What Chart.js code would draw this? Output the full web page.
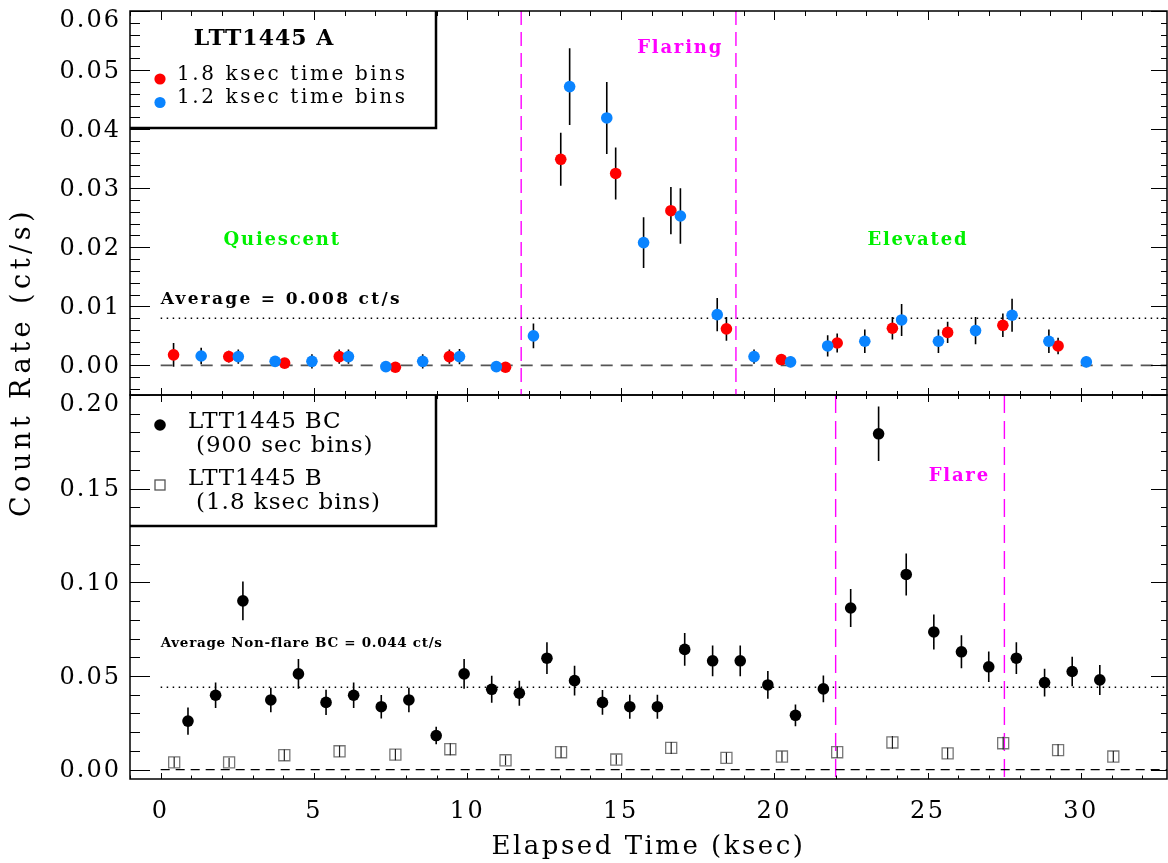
<!DOCTYPE html>
<html>
<head>
<meta charset="utf-8">
<script src="https://cdn.jsdelivr.net/npm/chart.js@4.4.1/dist/chart.umd.min.js"></script>
<style>
html, body { margin: 0; padding: 0; background: #fff; }
#wrap { position: relative; width: 1168px; height: 863px; overflow: hidden; }
#wrap canvas { position: absolute; left: 0; top: 0; }
</style>
</head>
<body>
<div id="wrap">
  <canvas id="botCanvas" width="1168" height="863"></canvas>
  <canvas id="topCanvas" width="1168" height="863"></canvas>
</div>
<script>
// ---------------- DATA ----------------
// Top panel: LTT1445 A
const redX   = [0.42, 2.22, 4.04, 5.82, 7.65, 9.41, 11.24, 13.04, 14.83, 16.63, 18.44, 20.23, 22.05, 23.85, 25.65, 27.45, 29.25];
const redY   = [0.0018, 0.0015, 0.0004, 0.0015, -0.0003, 0.0015, -0.0003, 0.0349, 0.0325, 0.0262, 0.0062, 0.0010, 0.0038, 0.0063, 0.0056, 0.0068, 0.0033];
const redErr = [0.0020, 0.0010, 0.0008, 0.0012, 0.0003, 0.0012, 0.0003, 0.0045, 0.0044, 0.0040, 0.0020, 0.0008, 0.0016, 0.0019, 0.0018, 0.0020, 0.0014];

const blueX   = [1.32, 2.53, 3.73, 4.93, 6.12, 7.34, 8.54, 9.74, 10.94, 12.15, 13.33, 14.54, 15.74, 16.94, 18.14, 19.34, 20.53, 21.74, 22.95, 24.15, 25.35, 26.56, 27.75, 28.95, 30.17];
const blueY   = [0.0016, 0.0015, 0.0007, 0.0007, 0.0015, -0.0002, 0.0007, 0.0015, -0.0002, 0.0050, 0.0472, 0.0419, 0.0208, 0.0253, 0.0086, 0.0015, 0.0006, 0.0033, 0.0041, 0.0077, 0.0041, 0.0059, 0.0085, 0.0041, 0.0006];
const blueErr = [0.0014, 0.0012, 0.0008, 0.0012, 0.0012, 0.0003, 0.0012, 0.0013, 0.0003, 0.0021, 0.0065, 0.0061, 0.0043, 0.0047, 0.0028, 0.0012, 0.0009, 0.0018, 0.0020, 0.0027, 0.0020, 0.0023, 0.0028, 0.0020, 0.0009];

// Bottom panel: LTT1445 BC (900 s bins) and LTT1445 B (1.8 ks bins)
const bcX   = [0.89, 1.79, 2.68, 3.59, 4.49, 5.39, 6.29, 7.19, 8.09, 8.98, 9.89, 10.79, 11.69, 12.59, 13.49, 14.40, 15.29, 16.19, 17.08, 17.99, 18.89, 19.79, 20.69, 21.60, 22.49, 23.40, 24.30, 25.20, 26.10, 26.99, 27.89, 28.81, 29.71, 30.61];
const bcY   = [0.0259, 0.0397, 0.0901, 0.0372, 0.0511, 0.0359, 0.0397, 0.0336, 0.0372, 0.0182, 0.0511, 0.0429, 0.0408, 0.0595, 0.0475, 0.0359, 0.0336, 0.0336, 0.0642, 0.0581, 0.0581, 0.0452, 0.0290, 0.0431, 0.0863, 0.1793, 0.1042, 0.0735, 0.0629, 0.0549, 0.0595, 0.0465, 0.0524, 0.0479];
const bcErr = [0.0073, 0.0068, 0.0103, 0.0065, 0.0079, 0.0067, 0.0068, 0.0063, 0.0065, 0.0047, 0.0079, 0.0072, 0.0067, 0.0085, 0.0079, 0.0066, 0.0064, 0.0064, 0.0088, 0.0082, 0.0082, 0.0074, 0.0058, 0.0071, 0.0101, 0.0146, 0.0112, 0.0093, 0.0088, 0.0081, 0.0085, 0.0074, 0.0079, 0.0080];

const bX   = [0.44, 2.23, 4.03, 5.83, 7.65, 9.44, 11.24, 13.05, 14.85, 16.64, 18.44, 20.25, 22.05, 23.85, 25.65, 27.46, 29.25, 31.05];
const bY   = [0.0039, 0.0039, 0.0077, 0.0098, 0.0080, 0.0109, 0.0050, 0.0093, 0.0054, 0.0116, 0.0063, 0.0070, 0.0093, 0.0145, 0.0087, 0.0141, 0.0104, 0.0070];
const bErr = [0.0028, 0.0025, 0.0030, 0.0030, 0.0030, 0.0032, 0.0025, 0.0030, 0.0026, 0.0032, 0.0028, 0.0028, 0.0030, 0.0034, 0.0030, 0.0034, 0.0031, 0.0029];

// Reference lines and phase boundaries
const topAverage = 0.008;
const botAverage = 0.044;
const topPhaseLines = [11.75, 18.75];
const botPhaseLines = [22.0, 27.5];

// Tick labels
const xTickValues   = [0, 5, 10, 15, 20, 25, 30];
const topYTickLabels = [0.00, 0.01, 0.02, 0.03, 0.04, 0.05, 0.06];
const botYTickLabels = [0.00, 0.05, 0.10, 0.15, 0.20];

// Axis ranges
const X_MIN = -1, X_MAX = 32.8;
const TOP_Y_MIN = -0.005, TOP_Y_MAX = 0.06;
const BOT_Y_MIN = -0.005, BOT_Y_MAX = 0.20;

// ---------------- STYLE ----------------
const FONT = "'DejaVu Serif', serif";
const RED = '#ff0000', BLUE = '#0a84ff', GREEN = '#00f000', MAGENTA = '#ff00ff';

const pts = (xs, ys) => xs.map((x, i) => ({ x: x, y: ys[i] }));
const hLine = (y) => [{ x: 0, y: y }, { x: X_MAX, y: y }];

function drawFrameTicks(chart, c) {
  const { ctx, chartArea: { left, right, top, bottom }, scales: { x, y } } = chart;
  ctx.save();
  ctx.letterSpacing = '0px';
  ctx.strokeStyle = '#000';
  ctx.lineWidth = 1;
  ctx.beginPath();
  for (let v = Math.ceil(x.min); v <= x.max; v++) {
    const px = Math.round(x.getPixelForValue(v)) + 0.5;
    const major = v % 5 === 0;
    const lt = major ? c.xTopMaj : c.xTopMin;
    const lb = major ? c.xBotMaj : c.xBotMin;
    ctx.moveTo(px, top); ctx.lineTo(px, top + lt);
    ctx.moveTo(px, bottom); ctx.lineTo(px, bottom - lb);
  }
  const i0 = Math.ceil(y.min / c.yMinor - 1e-6);
  for (let i = i0; i * c.yMinor <= y.max + 1e-9; i++) {
    const v = i * c.yMinor;
    const py = Math.round(y.getPixelForValue(v)) + 0.5;
    const major = ((i % c.majorEvery) + c.majorEvery) % c.majorEvery === 0;
    const ll = major ? 20 : 10;
    const lr = major ? 16 : 6;
    ctx.moveTo(left, py); ctx.lineTo(left + ll, py);
    ctx.moveTo(right, py); ctx.lineTo(right - lr, py);
  }
  ctx.stroke();
  ctx.lineWidth = 1.5;
  ctx.strokeRect(left, top, right - left, bottom - top);
  ctx.restore();
}

function drawYLabels(chart, values, topShift) {
  const { ctx, chartArea, scales: { y } } = chart;
  ctx.save();
  ctx.font = '24px ' + FONT;
  ctx.letterSpacing = '2px';
  ctx.textAlign = 'right';
  ctx.textBaseline = 'middle';
  ctx.fillStyle = '#000';
  values.forEach((v, i) => {
    let py = y.getPixelForValue(v) + 1.5;
    if (i === values.length - 1) py += topShift;
    ctx.fillText(v.toFixed(2), chartArea.left - 9, py);
  });
  ctx.restore();
}

function drawErrorBars(chart, xs, ys, es, color, width) {
  const { ctx, chartArea, scales: { x, y } } = chart;
  ctx.save();
  ctx.beginPath();
  ctx.rect(chartArea.left, chartArea.top, chartArea.right - chartArea.left, chartArea.bottom - chartArea.top);
  ctx.clip();
  ctx.beginPath();
  xs.forEach((xv, i) => {
    const px = x.getPixelForValue(xv);
    ctx.moveTo(px, y.getPixelForValue(ys[i] - es[i]));
    ctx.lineTo(px, y.getPixelForValue(ys[i] + es[i]));
  });
  ctx.strokeStyle = color;
  ctx.lineWidth = width;
  ctx.stroke();
  ctx.restore();
}

function text(ctx, str, x, y, font, color, align, spacing) {
  ctx.save();
  ctx.font = font;
  ctx.letterSpacing = (spacing || 0) + 'px';
  ctx.fillStyle = color;
  ctx.textAlign = align || 'left';
  ctx.textBaseline = 'middle';
  ctx.fillText(str, x, y);
  ctx.restore();
}

function dot(ctx, x, y, r, color) {
  ctx.save();
  ctx.beginPath();
  ctx.arc(x, y, r, 0, Math.PI * 2);
  ctx.fillStyle = color;
  ctx.fill();
  ctx.restore();
}

// ---------------- TOP CHART ----------------
const topPlugin = {
  id: 'topDecor',
  beforeDatasetsDraw(chart) {
    drawErrorBars(chart, redX, redY, redErr, '#000', 1.6);
    drawErrorBars(chart, blueX, blueY, blueErr, '#000', 1.6);
  },
  afterDraw(chart) {
    const { ctx, chartArea: { left, top }, scales: { x, y } } = chart;

    // annotations
    text(ctx, 'Quiescent', x.getPixelForValue(3.96), y.getPixelForValue(0.0212), 'bold 18px ' + FONT, GREEN, 'center', 1.8);
    text(ctx, 'Elevated', x.getPixelForValue(24.68), y.getPixelForValue(0.0212), 'bold 18px ' + FONT, GREEN, 'center', 1.8);
    text(ctx, 'Flaring', x.getPixelForValue(16.93), y.getPixelForValue(0.0536), 'bold 18px ' + FONT, MAGENTA, 'center', 1.8);
    text(ctx, 'Average = 0.008 ct/s', x.getPixelForValue(0), y.getPixelForValue(0.0112), 'bold 17px ' + FONT, '#000', 'left', 2.3);

    // legend box
    ctx.save();
    ctx.fillStyle = '#fff';
    ctx.fillRect(left, top, 436 - left, 128 - top);
    ctx.strokeStyle = '#000';
    ctx.lineWidth = 2.5;
    ctx.beginPath();
    ctx.moveTo(left, 128); ctx.lineTo(436, 128); ctx.lineTo(436, top);
    ctx.stroke();
    ctx.restore();
    text(ctx, 'LTT1445 A', 264, 39, 'bold 22px ' + FONT, '#000', 'center', 1);
    dot(ctx, 160, 79, 5.6, RED);
    text(ctx, '1.8 ksec time bins', 177, 75, '20px ' + FONT, '#000', 'left', 2.6);
    dot(ctx, 160, 102.5, 5.6, BLUE);
    text(ctx, '1.2 ksec time bins', 177, 98, '20px ' + FONT, '#000', 'left', 2.6);

    // frame, ticks and tick labels on top
    drawFrameTicks(chart, { xTopMaj: 9, xTopMin: 5, xBotMaj: 7, xBotMin: 4, yMinor: 0.002, majorEvery: 5 });
    drawYLabels(chart, topYTickLabels, 8);
  }
};

new Chart(document.getElementById('topCanvas'), {
  type: 'scatter',
  data: {
    datasets: [
      { label: '1.2 ksec time bins', data: pts(blueX, blueY), backgroundColor: BLUE, borderWidth: 0, pointRadius: 5.8, order: 0 },
      { label: '1.8 ksec time bins', data: pts(redX, redY), backgroundColor: RED, borderWidth: 0, pointRadius: 5.8, order: 1 },
      { label: 'average', type: 'line', data: hLine(topAverage), borderColor: '#000', borderWidth: 1.4, borderDash: [1.5, 4.5], pointRadius: 0, order: 5 },
      { label: 'zero', type: 'line', data: hLine(0), borderColor: '#555', borderWidth: 1.8, borderDash: [12, 8], pointRadius: 0, order: 6 },
      { label: 'start', type: 'line', data: [{ x: topPhaseLines[0], y: TOP_Y_MAX }, { x: topPhaseLines[0], y: TOP_Y_MIN }], borderColor: MAGENTA, borderWidth: 1.4, borderDash: [14, 7], pointRadius: 0, order: 7 },
      { label: 'end', type: 'line', data: [{ x: topPhaseLines[1], y: TOP_Y_MAX }, { x: topPhaseLines[1], y: TOP_Y_MIN }], borderColor: MAGENTA, borderWidth: 1.4, borderDash: [14, 7], pointRadius: 0, order: 8 }
    ]
  },
  options: {
    responsive: false,
    animation: false,
    events: [],
    layout: { autoPadding: false, padding: { top: 11, bottom: 863 - 395, left: 0, right: 1 } },
    plugins: { legend: { display: false }, tooltip: { enabled: false } },
    scales: {
      x: { type: 'linear', min: X_MIN, max: X_MAX, display: false },
      y: {
        type: 'linear', min: TOP_Y_MIN, max: TOP_Y_MAX,
        afterBuildTicks: (s) => { s.ticks = topYTickLabels.map(v => ({ value: v })); },
        afterFit: (s) => { s.width = 130; },
        grid: { display: false, drawTicks: false },
        border: { display: false },
        ticks: { display: false }
      }
    }
  },
  plugins: [topPlugin]
});

// ---------------- BOTTOM CHART ----------------
const botPlugin = {
  id: 'botDecor',
  beforeDraw(chart) {
    chart.ctx.letterSpacing = '2.5px';
  },
  beforeDatasetsDraw(chart) {
    chart.ctx.letterSpacing = '0px';
    drawErrorBars(chart, bcX, bcY, bcErr, '#000', 1.6);
  },
  afterDatasetsDraw(chart) {
    drawErrorBars(chart, bX, bY, bErr, '#222', 1.2);
  },
  afterDraw(chart) {
    const { ctx, chartArea: { left, top }, scales: { x, y } } = chart;
    ctx.letterSpacing = '0px';

    text(ctx, 'Flare', x.getPixelForValue(26.03), y.getPixelForValue(0.1566), 'bold 18px ' + FONT, MAGENTA, 'center', 1.8);
    text(ctx, 'Average Non-flare BC = 0.044 ct/s', x.getPixelForValue(0), y.getPixelForValue(0.0676), 'bold 13.5px ' + FONT, '#000', 'left', 0.7);

    // y-axis title (shared by both panels)
    ctx.save();
    ctx.translate(23, 362);
    ctx.rotate(-Math.PI / 2);
    ctx.font = '27px ' + FONT;
    ctx.letterSpacing = '4.5px';
    ctx.fillStyle = '#000';
    ctx.textAlign = 'center';
    ctx.textBaseline = 'middle';
    ctx.fillText('Count Rate (ct/s)', 0, 0);
    ctx.restore();

    // legend box
    ctx.save();
    ctx.fillStyle = '#fff';
    ctx.fillRect(left + 1, top + 1, 436 - left - 1, 526 - top - 1);
    ctx.strokeStyle = '#000';
    ctx.lineWidth = 2.5;
    ctx.beginPath();
    ctx.moveTo(left, 526); ctx.lineTo(436, 526); ctx.lineTo(436, top);
    ctx.stroke();
    ctx.restore();
    dot(ctx, 160, 425, 5.8, '#000');
    text(ctx, 'LTT1445 BC', 188, 422, '23px ' + FONT, '#000', 'left', 0.8);
    text(ctx, '(900 sec bins)', 196, 446, '23px ' + FONT, '#000', 'left', 1);
    ctx.save();
    ctx.strokeStyle = '#555';
    ctx.lineWidth = 1.3;
    ctx.strokeRect(155, 480, 10, 10);
    ctx.restore();
    text(ctx, 'LTT1445 B', 188, 479, '23px ' + FONT, '#000', 'left', 0.8);
    text(ctx, '(1.8 ksec bins)', 196, 503, '23px ' + FONT, '#000', 'left', 1);

    // frame, ticks and tick labels on top
    drawFrameTicks(chart, { xTopMaj: 7, xTopMin: 4, xBotMaj: 6, xBotMin: 3.5, yMinor: 0.01, majorEvery: 5 });
    drawYLabels(chart, botYTickLabels, 8);
  }
};

new Chart(document.getElementById('botCanvas'), {
  type: 'scatter',
  data: {
    datasets: [
      { label: 'LTT1445 BC', data: pts(bcX, bcY), backgroundColor: '#000', borderWidth: 0, pointRadius: 5.8, order: 0 },
      { label: 'LTT1445 B', data: pts(bX, bY), pointStyle: 'rect', backgroundColor: 'rgba(255,255,255,0)', borderColor: '#777', borderWidth: 1.3, pointRadius: 7.8, order: 1 },
      { label: 'average', type: 'line', data: hLine(botAverage), borderColor: '#000', borderWidth: 1.4, borderDash: [1.5, 4.5], pointRadius: 0, order: 5 },
      { label: 'zero', type: 'line', data: hLine(0), borderColor: '#000', borderWidth: 1.2, borderDash: [9, 6], pointRadius: 0, order: 6 },
      { label: 'flare start', type: 'line', data: [{ x: botPhaseLines[0], y: BOT_Y_MAX }, { x: botPhaseLines[0], y: BOT_Y_MIN }], borderColor: MAGENTA, borderWidth: 1.4, borderDash: [18, 8], pointRadius: 0, order: 7 },
      { label: 'flare end', type: 'line', data: [{ x: botPhaseLines[1], y: BOT_Y_MAX }, { x: botPhaseLines[1], y: BOT_Y_MIN }], borderColor: MAGENTA, borderWidth: 1.4, borderDash: [18, 8], pointRadius: 0, order: 8 }
    ]
  },
  options: {
    responsive: false,
    animation: false,
    events: [],
    layout: { autoPadding: false, padding: { top: 395, bottom: 0, left: 0, right: 1 } },
    plugins: { legend: { display: false }, tooltip: { enabled: false } },
    scales: {
      x: {
        type: 'linear', min: X_MIN, max: X_MAX, position: 'bottom',
        afterBuildTicks: (s) => { s.ticks = xTickValues.map(v => ({ value: v })); },
        afterFit: (s) => { s.height = 84; },
        grid: { display: false, drawTicks: false },
        border: { display: false },
        ticks: { color: '#000', font: { family: FONT, size: 24 }, padding: 18, maxRotation: 0, autoSkip: false, callback: (v) => String(v) },
        title: { display: true, text: 'Elapsed Time (ksec)', color: '#000', font: { family: FONT, size: 26 }, padding: { top: 0, bottom: 0 } }
      },
      y: {
        type: 'linear', min: BOT_Y_MIN, max: BOT_Y_MAX,
        afterBuildTicks: (s) => { s.ticks = botYTickLabels.map(v => ({ value: v })); },
        afterFit: (s) => { s.width = 130; },
        grid: { display: false, drawTicks: false },
        border: { display: false },
        ticks: { display: false }
      }
    }
  },
  plugins: [botPlugin]
});
</script>
</body>
</html>
